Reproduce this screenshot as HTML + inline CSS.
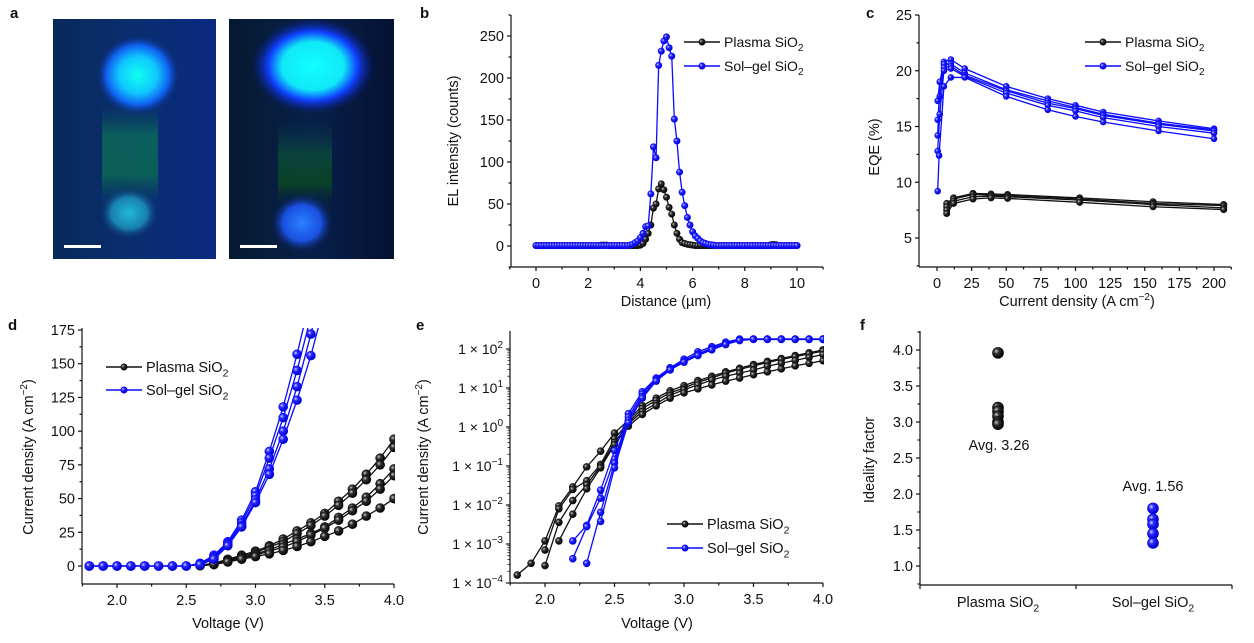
<!DOCTYPE html>
<html><head><meta charset="utf-8">
<style>
html,body{margin:0;padding:0;background:#fff;}
svg{display:block;font-family:"Liberation Sans",Arial,sans-serif;}
text{fill:#111;}
</style></head>
<body>
<svg id="fig" width="1254" height="643" viewBox="0 0 1254 643" xmlns="http://www.w3.org/2000/svg">
<defs>
<radialGradient id="gk" cx="35%" cy="35%" r="65%"><stop offset="0" stop-color="#cfcfcf"/><stop offset="0.35" stop-color="#333"/><stop offset="1" stop-color="#000"/></radialGradient>
<radialGradient id="gb" cx="35%" cy="35%" r="65%"><stop offset="0" stop-color="#d8d8ff"/><stop offset="0.35" stop-color="#2a2aff"/><stop offset="1" stop-color="#0000c8"/></radialGradient>
<radialGradient id="blobA1" cx="50%" cy="50%" r="50%"><stop offset="0" stop-color="#10fff0"/><stop offset="0.45" stop-color="#10c8ff"/><stop offset="0.75" stop-color="#1060f0"/><stop offset="1" stop-color="#0a2a80" stop-opacity="0"/></radialGradient>
<radialGradient id="blobA2" cx="50%" cy="50%" r="50%"><stop offset="0" stop-color="#20b8d8"/><stop offset="0.6" stop-color="#1880b0"/><stop offset="1" stop-color="#0a3070" stop-opacity="0"/></radialGradient>
<radialGradient id="blobB1" cx="50%" cy="50%" r="50%"><stop offset="0" stop-color="#10ffff"/><stop offset="0.5" stop-color="#10e8f8"/><stop offset="0.72" stop-color="#1040ff"/><stop offset="1" stop-color="#0a1a80" stop-opacity="0"/></radialGradient>
<radialGradient id="blobB2" cx="50%" cy="50%" r="50%"><stop offset="0" stop-color="#2a80ff"/><stop offset="0.6" stop-color="#1a50e0"/><stop offset="1" stop-color="#081a50" stop-opacity="0"/></radialGradient>
<linearGradient id="greenA" x1="0" y1="0" x2="0" y2="1"><stop offset="0" stop-color="#0a5050" stop-opacity="0"/><stop offset="0.3" stop-color="#0a6a5a" stop-opacity="0.8"/><stop offset="0.7" stop-color="#0a6a50" stop-opacity="0.8"/><stop offset="1" stop-color="#0a5060" stop-opacity="0"/></linearGradient>
<linearGradient id="greenB" x1="0" y1="0" x2="0" y2="1"><stop offset="0" stop-color="#0a3a50" stop-opacity="0"/><stop offset="0.4" stop-color="#0a4a3a" stop-opacity="0.8"/><stop offset="0.75" stop-color="#0a4a20" stop-opacity="0.8"/><stop offset="1" stop-color="#0a3030" stop-opacity="0"/></linearGradient>
<linearGradient id="bgA" x1="0" y1="0" x2="1" y2="0"><stop offset="0" stop-color="#082a5a"/><stop offset="0.5" stop-color="#0a2e70"/><stop offset="1" stop-color="#0a2a80"/></linearGradient>
<linearGradient id="bgB" x1="0" y1="0" x2="1" y2="0"><stop offset="0" stop-color="#051a30"/><stop offset="0.5" stop-color="#08204a"/><stop offset="1" stop-color="#041232"/></linearGradient>
<clipPath id="clipD"><rect x="82" y="328" width="313" height="257"/></clipPath>
<clipPath id="clipE"><rect x="510" y="330" width="314" height="254"/></clipPath>
</defs>

<!-- Panel a -->
<g>
<text x="10" y="18" font-size="15" font-weight="bold">a</text>
<g>
<rect x="53" y="19" width="163" height="240" fill="url(#bgA)"/>
<rect x="102" y="105" width="56" height="100" fill="url(#greenA)"/>
<ellipse cx="129" cy="213" rx="30" ry="26" fill="url(#blobA2)"/>
<ellipse cx="138" cy="75" rx="42" ry="40" fill="url(#blobA1)"/>
<rect x="64" y="245" width="37" height="3" fill="#fff"/>
</g>
<g>
<rect x="229" y="19" width="165" height="240" fill="url(#bgB)"/>
<rect x="278" y="120" width="54" height="85" fill="url(#greenB)"/>
<ellipse cx="313" cy="66" rx="62" ry="48" fill="url(#blobB1)"/>
<ellipse cx="302" cy="223" rx="32" ry="30" fill="url(#blobB2)"/>
<rect x="240" y="245" width="37" height="3" fill="#fff"/>
</g>
</g>

<g id="plots"></g>
</svg>
<script>
// ---------- data ----------
// Panel b (distance grid 0..10 µm, step 0.1)
const bX = [0,0.1,0.2,0.3,0.4,0.5,0.6,0.7,0.8,0.9,1,1.1,1.2,1.3,1.4,1.5,1.6,1.7,1.8,1.9,2,2.1,2.2,2.3,2.4,2.5,2.6,2.7,2.8,2.9,3,3.1,3.2,3.3,3.4,3.5,3.6,3.7,3.8,3.9,4,4.1,4.2,4.3,4.4,4.5,4.6,4.7,4.8,4.9,5,5.1,5.2,5.3,5.4,5.5,5.6,5.7,5.8,5.9,6,6.1,6.2,6.3,6.4,6.5,6.6,6.7,6.8,6.9,7,7.1,7.2,7.3,7.4,7.5,7.6,7.7,7.8,7.9,8,8.1,8.2,8.3,8.4,8.5,8.6,8.7,8.8,8.9,9,9.1,9.2,9.3,9.4,9.5,9.6,9.7,9.8,9.9,10];
const bSolgel = [0.5,0.5,0.5,0.5,0.5,0.5,0.5,0.5,0.5,0.5,0.5,0.5,0.5,0.5,0.5,0.5,0.5,0.5,0.5,0.5,0.5,0.5,0.5,0.5,0.5,0.5,0.5,0.5,0.5,0.5,0.5,0.5,0.5,0.5,0.5,0.5,
 1,2,4,6,10,15,23,24,62,118,105,215,232,244,249,236,226,151,125,88,64,48,34,25,17,12,9,6,4,3,2,1.5,1,
 0.5,0.5,0.5,0.5,0.5,0.5,0.5,0.5,0.5,0.5,0.5,0.5,0.5,0.5,0.5,0.5,0.5,0.5,0.5,0.5,0.5,0.5,0.5,0.5,0.5,0.5,0.5,0.5,0.5,0.5,0.5,0.5];
const bPlasma = [0.5,0.5,0.5,0.5,0.5,0.5,0.5,0.5,0.5,0.5,0.5,0.5,0.5,0.5,0.5,0.5,0.5,0.5,0.5,0.5,0.5,0.5,0.5,0.5,0.5,1,1,1,0.5,0.5,0.5,0.5,0.5,0.5,0.5,0.5,0.5,0.5,0.5,0.5,
 1,3,8,15,25,45,50,68,74,67,58,46,38,25,15,8,4,3,2,1.5,1,
 0.5,0.5,0.5,0.5,0.5,0.5,0.5,0.5,0.5,0.5,0.5,0.5,0.5,0.5,0.5,0.5,0.5,0.5,0.5,0.5,0.5,0.5,0.5,0.5,0.5,0.5,0.5,0.5,0.5,1.5,2,1.5,0.5,0.5,0.5,0.5,0.5,0.5,0.5,0.5];
const bXTicks = [0,2,4,6,8,10];
const bYTicks = [0,50,100,150,200,250];

// Panel c
const cSolX = [0.5,2,5,10,20,50,80,100,120,160,200];
const cSol1 = [17.3,19.0,20.8,21.0,20.2,18.6,17.5,16.9,16.3,15.5,14.8];
const cSol2 = [15.6,17.7,20.6,20.6,19.8,18.3,17.3,16.7,16.1,15.3,14.7];
const cSol3 = [12.8,16.1,20.0,20.2,19.5,18.0,16.9,16.4,15.8,15.0,14.4];
const cSol4X = [0.5,1.5,5,10,20,50,80,100,120,160,200];
const cSol4 = [9.2,12.4,18.6,19.4,19.4,17.7,16.5,15.9,15.4,14.6,13.9];
const cSol5 = [14.2,19.0,20.3,20.4,19.6,18.2,17.1,16.6,16.0,15.2,14.6];
const cPlaX = [7,12,26,39,51,103,156,207];
const cPla1 = [8.1,8.6,9.0,8.95,8.9,8.6,8.25,8.0];
const cPla2 = [7.8,8.5,8.9,8.85,8.8,8.5,8.1,7.9];
const cPla3 = [7.5,8.3,8.7,8.75,8.7,8.4,8.0,7.7];
const cPla4 = [7.2,8.1,8.5,8.6,8.55,8.2,7.8,7.55];
const cXTicks = [0,25,50,75,100,125,150,175,200];
const cYTicks = [5,10,15,20,25];

// Panel d
const dV = [1.8,1.9,2.0,2.1,2.2,2.3,2.4,2.5,2.6,2.7,2.8,2.9,3.0,3.1,3.2,3.3,3.4,3.5];
const dSol1 = [0,0,0,0,0,0,0,0,2,8,18,34,55,85,118,157,200,250];
const dSol2 = [0,0,0,0,0,0,0,0,1.5,7,17,32,52,80,110,145,185,230];
const dSol3 = [0,0,0,0,0,0,0,0,1,6,16,30,49,72,100,133,172,215];
const dSol4 = [0,0,0,0,0,0,0,0,1,5,15,29,47,68,94,123,156,195];
const dPlaV = [2.6,2.7,2.8,2.9,3.0,3.1,3.2,3.3,3.4,3.5,3.6,3.7,3.8,3.9,4.0];
const dPla1 = [0.5,2,5,8,11,15,20,26,32,39,48,57,68,80,94];
const dPla2 = [0.5,2,4.5,7.5,10,14,18,24,30,37,45,54,64,75,88];
const dPla3 = [0.3,1.5,4,6.5,9,12,16,20,24,29,36,43,51,61,72];
const dPla4 = [0.3,1.5,3.5,6,8,11,14,18,23,28,34,41,48,57,67];
const dPla5 = [0.2,1,3,5,7,9,11.5,14.5,18,22,26,31,37,43,50];
const dXTicks = [2.0,2.5,3.0,3.5,4.0];
const dYTicks = [0,25,50,75,100,125,150,175];

// Panel e
const ePla1V = [1.8,1.9,2.0,2.1,2.2,2.3,2.4,2.5,2.6,2.7,2.8,2.9,3.0,3.1,3.2,3.3,3.4,3.5,3.6,3.7,3.8,3.9,4.0];
const ePla1 = [1.6e-4,3.2e-4,1.2e-3,9.5e-3,2.9e-2,9.5e-2,0.24,0.7,1.5,3.5,5.5,8.5,11.5,15.5,20,26,32,40,48,57,68,80,95];
const ePla2V = [2.0,2.1,2.2,2.3,2.4,2.5,2.6,2.7,2.8,2.9,3.0,3.1,3.2,3.3,3.4,3.5,3.6,3.7,3.8,3.9,4.0];
const ePla2 = [7e-4,8e-3,2.5e-2,4.2e-2,0.11,0.5,1.3,3,4.8,7.5,10,14,18,24,30,37,45,54,64,75,88];
const ePla3 = [2.8e-4,3.6e-3,1.3e-2,3.3e-2,0.1,0.4,1.2,2.5,4,6.5,9,12,16,20,24,29,36,43,51,61,72];
const ePla4V = [2.1,2.2,2.3,2.4,2.5,2.6,2.7,2.8,2.9,3.0,3.1,3.2,3.3,3.4,3.5,3.6,3.7,3.8,3.9,4.0];
const ePla4 = [1.2e-3,5.8e-3,2.6e-2,0.09,0.35,1.05,2.1,3.5,5.5,7.5,9.5,12,15,18,22,26,31,37,43,50];
const eSol1V = [2.2,2.3,2.4,2.5,2.6,2.7,2.8,2.9,3.0,3.1,3.2,3.3,3.4,3.5,3.6,3.7,3.8,3.9,4.0];
const eSol1 = [1.2e-3,3e-3,2.4e-2,0.25,2.2,8,18,33,55,85,115,150,180,180,180,180,180,180,180];
const eSol2 = [4.2e-4,2.8e-3,1.5e-2,0.15,1.8,7,17,31,50,75,105,140,175,180,180,180,180,180,180];
const eSol3V = [2.3,2.4,2.5,2.6,2.7,2.8,2.9,3.0,3.1,3.2,3.3,3.4,3.5,3.6,3.7,3.8,3.9,4.0];
const eSol3 = [3.2e-4,6.5e-3,0.12,1.5,6,16,30,48,70,100,135,170,178,178,178,178,178,178];
const eSol4V = [2.4,2.5,2.6,2.7,2.8,2.9,3.0,3.1,3.2,3.3,3.4,3.5,3.6,3.7,3.8,3.9,4.0];
const eSol4 = [3.8e-3,0.09,1.3,5.5,15,29,46,68,95,130,165,176,176,176,176,176,176];
const eXTicks = [2.0,2.5,3.0,3.5,4.0];
const eYExp = [-4,-3,-2,-1,0,1,2];

// Panel f
const fCategories = ["Plasma SiO", "Sol\u2013gel SiO"];
const fPlasma = [3.96,3.2,3.15,3.08,3.0,2.97];
const fSolgel = [1.8,1.65,1.58,1.45,1.32];
const fAverages = ["Avg. 3.26","Avg. 1.56"];
const fYTicks = [1.0,1.5,2.0,2.5,3.0,3.5,4.0];

// ---------- helpers ----------
const NS = "http://www.w3.org/2000/svg";
const root = document.getElementById('plots');
function el(tag, attrs, parent) {
  const e = document.createElementNS(NS, tag);
  for (const k in attrs) e.setAttribute(k, attrs[k]);
  (parent || root).appendChild(e);
  return e;
}
function lin(d0, d1, r0, r1) { return v => r0 + (v - d0) * (r1 - r0) / (d1 - d0); }
function txt(x, y, s, size, anchor, parent) {
  const t = el('text', {x: x, y: y, 'font-size': size, 'text-anchor': anchor || 'middle'}, parent);
  t.textContent = s;
  return t;
}
function subText(x, y, main, sub, size, anchor, parent) {
  const t = el('text', {x: x, y: y, 'font-size': size, 'text-anchor': anchor || 'start'}, parent);
  t.appendChild(document.createTextNode(main));
  const ts = document.createElementNS(NS, 'tspan');
  ts.setAttribute('font-size', size * 0.72);
  ts.setAttribute('dy', size * 0.3);
  ts.textContent = sub;
  t.appendChild(ts);
  return t;
}
function line(x1, y1, x2, y2, parent, w) {
  return el('line', {x1: x1, y1: y1, x2: x2, y2: y2, stroke: '#111', 'stroke-width': w || 1.2}, parent);
}
function series(parent, xs, ys, sx, sy, color, grad, r, name) {
  const g = el('g', {}, parent);
  
  
  const pts = xs.map((x, i) => sx(x).toFixed(2) + ',' + sy(ys[i]).toFixed(2)).join(' ');
  const pl = el('polyline', {points: pts, fill: 'none', stroke: color, 'stroke-width': 1.3}, g);
  
  
  xs.forEach((x, i) => {
    const c = el('circle', {cx: sx(x), cy: sy(ys[i]), r: r, fill: 'url(#' + grad + ')', stroke: color, 'stroke-width': 0.6}, g);
    
    
  });
  return g;
}
function legend(parent, x, y1, y2, size) {
  const g = el('g', {}, parent);
  
  
  [[y1, '#111', 'gk', 'Plasma SiO', 'legend-entry-plasma'], [y2, '#0a0aff', 'gb', 'Sol\u2013gel SiO', 'legend-entry-solgel']].forEach(a => {
    const ge = el('g', {}, g);
    
    
    el('line', {x1: x, y1: a[0], x2: x + 36, y2: a[0], stroke: a[1], 'stroke-width': 1.6}, ge);
    el('circle', {cx: x + 18, cy: a[0], r: 3.2, fill: 'url(#' + a[2] + ')', stroke: a[1], 'stroke-width': 0.6}, ge);
    subText(x + 40, a[0] + 5, a[3], '2', size || 14, 'start', ge);
  });
}
function panel(name) {
  const g = el('g', {});
  
  
  return g;
}
function yLabel(parent, x, y, content, name) {
  const t = el('text', {x: 0, y: 0, 'font-size': 14.5, 'text-anchor': 'middle', transform: 'translate(' + x + ',' + y + ') rotate(-90)'}, parent);
  
  
  return t;
}
function addSup(t, main, sup, tail) {
  t.appendChild(document.createTextNode(main));
  const ts = document.createElementNS(NS, 'tspan');
  ts.setAttribute('font-size', '10');
  ts.setAttribute('dy', '-6');
  ts.textContent = sup;
  t.appendChild(ts);
  const t2 = document.createElementNS(NS, 'tspan');
  t2.setAttribute('dy', '6');
  t2.textContent = tail;
  t.appendChild(t2);
}
function axesFrame(g, x0, y0, x1, yTop) {
  const ax = line(x0, y0, x1, y0, g);
  
  
  const ay = line(x0, y0, x0, yTop, g);
  
  
}
function xTicks(g, sx, y0, majors, minors, fmt) {
  majors.forEach(v => { line(sx(v), y0, sx(v), y0 + 4, g); const t = txt(sx(v), y0 + 21, fmt(v), 14.5, 'middle', g);   });
  minors.forEach(v => line(sx(v), y0, sx(v), y0 + 2.5, g));
}
function yTicks(g, sy, x0, majors, minors, fmt) {
  majors.forEach(v => { line(x0, sy(v), x0 - 4, sy(v), g); const t = txt(x0 - 7, sy(v) + 5, fmt(v), 14.5, 'end', g);   });
  minors.forEach(v => line(x0, sy(v), x0 - 2.5, sy(v), g));
}
function range(a, b, s) { const r = []; for (let v = a; v <= b + 1e-9; v += s) r.push(+v.toFixed(4)); return r; }

// ---------- Panel b ----------
(function(){
  const g = panel('panel-b');
  txt(420, 18, 'b', 15, 'start', g).setAttribute('font-weight', 'bold');
  const sx = lin(0, 10, 536, 797), sy = lin(0, 250, 246, 36);
  axesFrame(g, 511, 267, 823, 15);
  xTicks(g, sx, 267, bXTicks, range(-1, 11, 1).filter(v => v % 2 !== 0), v => String(v));
  yTicks(g, sy, 511, bYTicks, range(-25, 275, 50), v => String(v));
  series(g, bX, bPlasma, sx, sy, '#111', 'gk', 3.2, 'series-plasma');
  series(g, bX, bSolgel, sx, sy, '#0a0aff', 'gb', 3.2, 'series-solgel');
  const yl = yLabel(g, 458, 141, '', 'y-axis-title'); yl.textContent = 'EL intensity (counts)';
  const xl = txt(666, 306, 'Distance (\u00b5m)', 14.5, 'middle', g);  
  legend(g, 684, 42, 66);
})();

// ---------- Panel c ----------
(function(){
  const g = panel('panel-c');
  txt(866, 18, 'c', 15, 'start', g).setAttribute('font-weight', 'bold');
  const sx = lin(0, 200, 937, 1214), sy = lin(5, 25, 238, 15);
  axesFrame(g, 919, 267, 1231, 15);
  xTicks(g, sx, 267, cXTicks, range(12.5, 212.5, 25), v => String(v));
  yTicks(g, sy, 919, cYTicks, range(2.5, 22.5, 5), v => String(v));
  series(g, cPlaX, cPla1, sx, sy, '#111', 'gk', 3.2, 'series-plasma-1');
  series(g, cPlaX, cPla2, sx, sy, '#111', 'gk', 3.2, 'series-plasma-2');
  series(g, cPlaX, cPla3, sx, sy, '#111', 'gk', 3.2, 'series-plasma-3');
  series(g, cPlaX, cPla4, sx, sy, '#111', 'gk', 3.2, 'series-plasma-4');
  series(g, cSolX, cSol1, sx, sy, '#0a0aff', 'gb', 3, 'series-solgel-1');
  series(g, cSolX, cSol2, sx, sy, '#0a0aff', 'gb', 3, 'series-solgel-2');
  series(g, cSolX, cSol5, sx, sy, '#0a0aff', 'gb', 3, 'series-solgel-5');
  series(g, cSolX, cSol3, sx, sy, '#0a0aff', 'gb', 3, 'series-solgel-3');
  series(g, cSol4X, cSol4, sx, sy, '#0a0aff', 'gb', 3, 'series-solgel-4');
  const yl = yLabel(g, 879, 147, '', 'y-axis-title'); yl.textContent = 'EQE (%)';
  const xl = el('text', {x: 1077, y: 306, 'font-size': 14.5, 'text-anchor': 'middle'}, g);
   
  addSup(xl, 'Current density (A cm', '\u22122', ')');
  legend(g, 1085, 42, 66);
})();

// ---------- Panel d ----------
(function(){
  const g = panel('panel-d');
  txt(8, 330, 'd', 15, 'start', g).setAttribute('font-weight', 'bold');
  const sx = lin(2.0, 4.0, 117, 394), sy = lin(0, 175, 566, 330);
  axesFrame(g, 82, 584, 394, 328);
  xTicks(g, sx, 584, dXTicks, [1.75, 2.25, 2.75, 3.25, 3.75], v => v.toFixed(1));
  yTicks(g, sy, 82, dYTicks, range(12.5, 162.5, 25), v => String(v));
  const cg = el('g', {'clip-path': 'url(#clipD)'}, g);
  series(cg, dPlaV, dPla1, sx, sy, '#111', 'gk', 4.5, 'series-plasma-1');
  series(cg, dPlaV, dPla2, sx, sy, '#111', 'gk', 4.5, 'series-plasma-2');
  series(cg, dPlaV, dPla3, sx, sy, '#111', 'gk', 4.5, 'series-plasma-3');
  series(cg, dPlaV, dPla4, sx, sy, '#111', 'gk', 4.5, 'series-plasma-4');
  series(cg, dPlaV, dPla5, sx, sy, '#111', 'gk', 4.5, 'series-plasma-5');
  series(cg, dV, dSol1, sx, sy, '#0a0aff', 'gb', 4.5, 'series-solgel-1');
  series(cg, dV, dSol2, sx, sy, '#0a0aff', 'gb', 4.5, 'series-solgel-2');
  series(cg, dV, dSol3, sx, sy, '#0a0aff', 'gb', 4.5, 'series-solgel-3');
  series(cg, dV, dSol4, sx, sy, '#0a0aff', 'gb', 4.5, 'series-solgel-4');
  const yl = yLabel(g, 33, 457, '', 'y-axis-title');
  addSup(yl, 'Current density (A cm', '\u22122', ')');
  const xl = txt(228, 628, 'Voltage (V)', 14.5, 'middle', g);  
  legend(g, 106, 367, 390, 14.5);
})();

// ---------- Panel e ----------
(function(){
  const g = panel('panel-e');
  txt(416, 330, 'e', 15, 'start', g).setAttribute('font-weight', 'bold');
  const sx = lin(2.0, 4.0, 545, 823);
  const ly = lin(-4, 2, 583, 349);
  const sy = v => ly(Math.log10(v));
  axesFrame(g, 510, 583, 823, 331);
  xTicks(g, sx, 583, eXTicks, [1.75, 2.25, 2.75, 3.25, 3.75], v => v.toFixed(1));
  eYExp.forEach(p => {
    line(510, ly(p), 506, ly(p), g);
    const t = el('text', {x: 503, y: ly(p) + 5, 'font-size': 14, 'text-anchor': 'end'}, g);
     
    t.appendChild(document.createTextNode('1 \u00d7 10'));
    const ts = document.createElementNS(NS, 'tspan'); ts.setAttribute('font-size', '10'); ts.setAttribute('dy', '-6');
    ts.textContent = p < 0 ? '\u2212' + (-p) : String(p);
    t.appendChild(ts);
    if (p < 2) for (let m = 2; m < 10; m++) line(510, ly(p + Math.log10(m)), 507.5, ly(p + Math.log10(m)), g, 0.8);
  });
  const cg = el('g', {'clip-path': 'url(#clipE)'}, g);
  series(cg, ePla1V, ePla1, sx, sy, '#111', 'gk', 3.5, 'series-plasma-1');
  series(cg, ePla2V, ePla2, sx, sy, '#111', 'gk', 3.5, 'series-plasma-2');
  series(cg, ePla2V, ePla3, sx, sy, '#111', 'gk', 3.5, 'series-plasma-3');
  series(cg, ePla4V, ePla4, sx, sy, '#111', 'gk', 3.5, 'series-plasma-4');
  series(cg, eSol1V, eSol1, sx, sy, '#0a0aff', 'gb', 3.5, 'series-solgel-1');
  series(cg, eSol1V, eSol2, sx, sy, '#0a0aff', 'gb', 3.5, 'series-solgel-2');
  series(cg, eSol3V, eSol3, sx, sy, '#0a0aff', 'gb', 3.5, 'series-solgel-3');
  series(cg, eSol4V, eSol4, sx, sy, '#0a0aff', 'gb', 3.5, 'series-solgel-4');
  const yl = yLabel(g, 428, 457, '', 'y-axis-title');
  addSup(yl, 'Current density (A cm', '\u22122', ')');
  const xl = txt(657, 628, 'Voltage (V)', 14.5, 'middle', g);  
  legend(g, 667, 524, 548, 14.5);
})();

// ---------- Panel f ----------
(function(){
  const g = panel('panel-f');
  txt(860, 330, 'f', 15, 'start', g).setAttribute('font-weight', 'bold');
  const sy = lin(1.0, 4.0, 566, 350);
  const catX = [998, 1153];
  axesFrame(g, 920, 585, 1232, 331);
  yTicks(g, sy, 920, fYTicks, range(0.75, 4.25, 0.25).filter(v => Math.abs(v * 2 - Math.round(v * 2)) > 0.01), v => v.toFixed(1));
  [920, 1076, 1232].forEach(x => line(x, 585, x, 589, g));
  fCategories.forEach((c, i) => {
    const t = subText(catX[i], 607, c, '2', 14.5, 'middle', g);
     
  });
  const gp = el('g', {}, g);
   
  fPlasma.forEach(v => {
    const c = el('circle', {cx: catX[0], cy: sy(v), r: 5.5, fill: 'url(#gk)', stroke: '#000', 'stroke-width': 0.6}, gp);
     
  });
  const gs = el('g', {}, g);
   
  fSolgel.forEach(v => {
    const c = el('circle', {cx: catX[1], cy: sy(v), r: 5.5, fill: 'url(#gb)', stroke: '#0000d0', 'stroke-width': 0.6}, gs);
     
  });
  const a1 = txt(999, 450, fAverages[0], 14.5, 'middle', g);
   
  const a2 = txt(1153, 491, fAverages[1], 14.5, 'middle', g);
   
  const yl = yLabel(g, 874, 460, '', 'y-axis-title'); yl.textContent = 'Ideality factor';
})();
</script>
</body></html>
